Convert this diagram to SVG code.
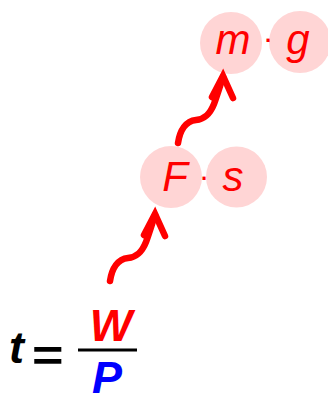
<svg xmlns="http://www.w3.org/2000/svg" width="328" height="396" viewBox="0 0 328 396">
<style>
.bub{fill:#ffd5d5}
.v{font-family:"Liberation Sans",Arial,sans-serif;font-style:italic;font-size:42px;fill:#ff0000;text-anchor:middle}
.dot{font-family:"Liberation Sans",Arial,sans-serif;font-size:32px;fill:#ff0000;text-anchor:middle}
.eq{font-family:"Liberation Sans",Arial,sans-serif;font-weight:bold;font-style:italic;font-size:45px}
.arr{fill:none;stroke:#ff0000;stroke-width:6.5;stroke-linecap:round;stroke-linejoin:miter}
</style>
<rect width="328" height="396" fill="#ffffff"/>
<g id="node-mg">
<circle class="bub" cx="231" cy="43" r="31"/>
<circle class="bub" cx="300" cy="42" r="31"/>
<text class="v" x="233" y="54">m</text>
<text class="dot" x="268" y="49">·</text>
<text class="v" x="298" y="54">g</text>
</g>
<g id="node-Fs">
<circle class="bub" cx="171" cy="177" r="31"/>
<circle class="bub" cx="236.5" cy="177" r="30.5"/>
<text class="v" x="175" y="191">F</text>
<text class="dot" x="204" y="187">·</text>
<text class="v" x="233" y="191">s</text>
</g>
<g id="node-formula">
<text class="eq" x="9" y="363" fill="#000000">t</text>
<text class="eq" fill="#000000" font-style="normal" transform="translate(31 371) scale(1.2 1)">=</text>
<text class="eq" x="111" y="341" fill="#ff0000" text-anchor="middle">W</text>
<rect x="78" y="348.5" width="59" height="3" fill="#000000"/>
<text class="eq" x="107" y="392.5" fill="#0000ff" text-anchor="middle">P</text>
</g>
<g id="connectors">
<path class="arr" d="M 110 281 C 112 268, 118 259, 128 258 C 137 257, 142 252, 146 242 C 149 234, 152 224, 155 215"/>
<path class="arr" d="M 144 235 L 155 214 L 165 236"/>
<path class="arr" d="M 178 143 C 180 130, 186 121, 196 120 C 205 119, 210 114, 214 104 C 217 96, 220 86, 223 77"/>
<path class="arr" d="M 212 97 L 223 76 L 233 98"/>
</g>
</svg>
